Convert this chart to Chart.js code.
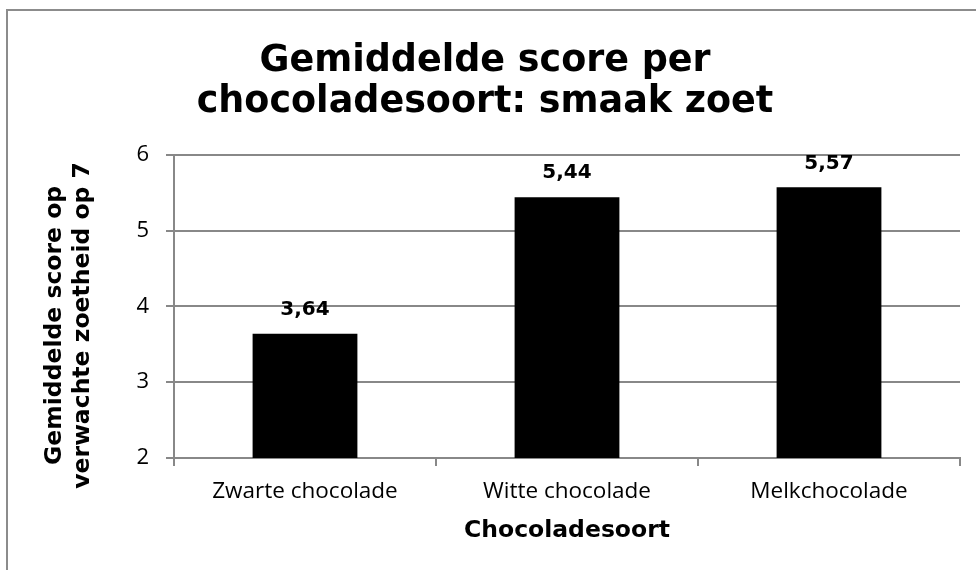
<!DOCTYPE html>
<html>
<head>
<meta charset="utf-8">
<script src="https://cdn.jsdelivr.net/npm/chart.js@4.4.1/dist/chart.umd.min.js"></script>
<style>
    html, body { margin: 0; padding: 0; background: #fff; }
    #wrap { width: 976px; height: 570px; }
</style>
</head>
<body>
<div id="wrap"><canvas id="chart" width="976" height="570"></canvas></div>
<script>
const CATEGORIES = ['Zwarte chocolade', 'Witte chocolade', 'Melkchocolade'];
const SCORES = [3.64, 5.44, 5.57];
const TITLE_LINES = ['Gemiddelde score per', 'chocoladesoort: smaak zoet'];
const Y_TITLE_LINES = ['Gemiddelde score op', 'verwachte zoetheid op 7'];
const X_TITLE = 'Chocoladesoort';

const GRID_COLOR = '#888888';
const BOLD_FONT = 'DejaVu Sans';
const TEXT_FONT = 'Open Sans';

const formatScore = (value) => value.toFixed(2).replace('.', ',');

// white background plus the frame line on the left and top
const framePlugin = {
    id: 'frame',
    beforeDraw: (chart) => {
        const ctx = chart.ctx;
        ctx.save();
        ctx.fillStyle = '#fff';
        ctx.fillRect(0, 0, chart.width, chart.height);
        ctx.strokeStyle = '#8c8c8c';
        ctx.lineWidth = 2;
        ctx.beginPath();
        ctx.moveTo(7, chart.height);
        ctx.lineTo(7, 10);
        ctx.lineTo(chart.width, 10);
        ctx.stroke();
        ctx.restore();
    }
};

// value labels above each bar
const valueLabels = {
    id: 'valueLabels',
    afterDatasetsDraw: (chart) => {
        const ctx = chart.ctx;
        const meta = chart.getDatasetMeta(0);
        ctx.save();
        ctx.font = `bold 20px "${BOLD_FONT}"`;
        ctx.fillStyle = '#000';
        ctx.textAlign = 'center';
        ctx.textBaseline = 'middle';
        meta.data.forEach((bar, i) => {
            ctx.fillText(formatScore(SCORES[i]), bar.x, bar.y - 24);
        });
        ctx.restore();
    }
};

// two-line rotated y axis title, sitting a little below the plot's middle
const yTitle = {
    id: 'yTitle',
    afterDraw: (chart) => {
        const ctx = chart.ctx;
        const area = chart.chartArea;
        const cy = (area.top + area.bottom) / 2 + 19;
        ctx.save();
        ctx.font = `bold 23.5px "${BOLD_FONT}"`;
        ctx.fillStyle = '#000';
        ctx.textAlign = 'center';
        ctx.textBaseline = 'middle';
        Y_TITLE_LINES.forEach((line, i) => {
            ctx.save();
            ctx.translate(55 + i * 28, cy);
            ctx.rotate(-Math.PI / 2);
            ctx.fillText(line, 0, 0);
            ctx.restore();
        });
        ctx.restore();
    }
};

new Chart(document.getElementById('chart'), {
    type: 'bar',
    data: {
        labels: CATEGORIES,
        datasets: [{
            data: SCORES,
            backgroundColor: '#000',
            borderWidth: 0,
            categoryPercentage: 1,
            barPercentage: 0.4
        }]
    },
    options: {
        responsive: false,
        animation: false,
        devicePixelRatio: 1,
        layout: { padding: { left: 10, right: 16, top: 30, bottom: 10 } },
        plugins: {
            legend: { display: false },
            tooltip: { enabled: false },
            title: {
                display: true,
                text: TITLE_LINES,
                color: '#000',
                font: { family: BOLD_FONT, size: 36.5, weight: 'bold', lineHeight: 1.12 },
                padding: { top: 11, bottom: 32 }
            }
        },
        scales: {
            x: {
                grid: {
                    offset: true,
                    drawOnChartArea: false,
                    drawTicks: true,
                    tickLength: 8,
                    color: GRID_COLOR,
                    lineWidth: 2
                },
                border: { color: GRID_COLOR, width: 2 },
                ticks: {
                    color: '#000',
                    font: { family: TEXT_FONT, size: 22.5 },
                    padding: 12
                },
                title: {
                    display: true,
                    text: X_TITLE,
                    color: '#000',
                    font: { family: BOLD_FONT, size: 23.5, weight: 'bold' },
                    padding: { top: 6, bottom: 15 }
                },
                afterFit: (scale) => { scale.height = 102; }
            },
            y: {
                min: 2,
                max: 6,
                ticks: {
                    stepSize: 1,
                    color: '#000',
                    font: { family: TEXT_FONT, size: 22 },
                    padding: 17
                },
                grid: {
                    color: GRID_COLOR,
                    tickLength: 8,
                    lineWidth: 2
                },
                border: { color: GRID_COLOR, width: 2 },
                afterFit: (scale) => { scale.width = 164; }
            }
        }
    },
    plugins: [framePlugin, valueLabels, yTitle]
});
</script>
</body>
</html>
